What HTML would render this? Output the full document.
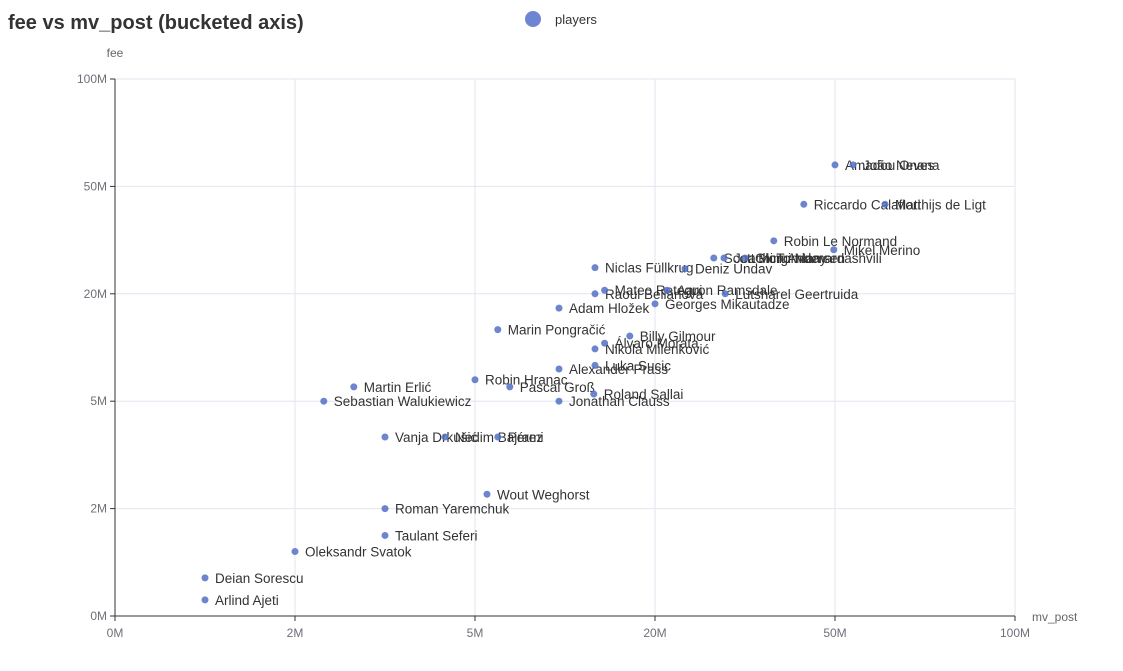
<!DOCTYPE html>
<html><head><meta charset="utf-8"><style>
html,body{margin:0;padding:0;background:#fff;}
svg{display:block;font-family:"Liberation Sans",sans-serif;}
</style></head><body>
<svg id="chart" width="1123" height="671">
<text x="8" y="29" font-size="20" font-weight="bold" fill="#333">fee vs mv_post (bucketed axis)</text>
<g>
<circle cx="533" cy="19" r="8" fill="#6e86d2"></circle>
<text x="555" y="24" font-size="13" fill="#333">players</text>
</g>
<text x="115" y="57" font-size="12" fill="#666" text-anchor="middle">fee</text>
<text x="1032" y="621" font-size="12" fill="#666">mv_post</text>
<g id="grid"></g><g id="axes"></g><g id="pts"></g>
</svg>
<script>
const tickValues = [0, 2, 5, 20, 50, 100];
const tickLabels = ["0M", "2M", "5M", "20M", "50M", "100M"];
const names = ["Deian Sorescu","Arlind Ajeti","Oleksandr Svatok","Taulant Seferi","Roman Yaremchuk","Wout Weghorst","Vanja Drkušić","Nedim Bajrami","Pérez","Sebastian Walukiewicz","Martin Erlić","Robin Hranac","Pascal Groß","Jonathan Clauss","Roland Sallai","Alexander Prass","Luka Sucic","Nikola Milenković","Álvaro Morata","Billy Gilmour","Marin Pongračić","Adam Hložek","Georges Mikautadze","Raoul Bellanova","Mateo Retegui","Aaron Ramsdale","Lutsharel Geertruida","Niclas Füllkrug","Deniz Undav","Scott McTominay","Joachim Andersen","Giorgi Mamardashvili","Robin Le Normand","Mikel Merino","Riccardo Calafiori","Matthijs de Ligt","Amadou Onana","João Neves"];
const mvPost = [1,1,2,3.5,3.5,6,3.5,4.5,6.9,2.48,2.98,5,7.9,12,14.9,12,15,15,15.8,17.9,6.9,12,20,15,15.8,22,31.7,15,25,29.8,31.5,35,39.8,49.8,44.8,63.9,50,55];
const fee = [0.71,0.3,1.2,1.5,2,2.4,4,4,4,5,7,8,7,5,6,9.5,10,12.3,13.1,14.1,15,18,18.6,20,21,21,20,27.3,27,30,30,30,34.8,32.3,45,45,60,60];
const X0=115, XS=180, Y0=616, YS=107.4;
function bucket(v){
  for(let i=0;i<tickValues.length-1;i++){
    if(v<=tickValues[i+1]) return i+(v-tickValues[i])/(tickValues[i+1]-tickValues[i]);
  }
  return tickValues.length-1;
}
function xPix(v){return X0+XS*bucket(v);}
function yPix(v){return Y0-YS*bucket(v);}
const NS="http://www.w3.org/2000/svg";
const grid=document.getElementById('grid'), axes=document.getElementById('axes'), pts=document.getElementById('pts');
function mk(tag,attrs,parent){const e=document.createElementNS(NS,tag);for(const k in attrs)e.setAttribute(k,attrs[k]);parent.appendChild(e);return e;}
tickValues.forEach((v,i)=>{
  const x=xPix(v), y=yPix(v);
  if(i>0){
    const gx=mk('line',{x1:x,y1:yPix(100),x2:x,y2:Y0,stroke:'#e0e6f1'},grid);
    
    
    const gy=mk('line',{x1:X0,y1:y,x2:xPix(100),y2:y,stroke:'#e0e6f1'},grid);
    
    
  }
  const tx=mk('text',{x:x,y:Y0+21,'font-size':12,fill:'#6e7079','text-anchor':'middle'},axes);
  tx.textContent=tickLabels[i];
  
  
  const ty=mk('text',{x:X0-8,y:y+4,'font-size':12,fill:'#6e7079','text-anchor':'end'},axes);
  ty.textContent=tickLabels[i];
  
  
  mk('line',{x1:x,y1:Y0,x2:x,y2:Y0+5,stroke:'#333'},axes);
  mk('line',{x1:X0-5,y1:y,x2:X0,y2:y,stroke:'#333'},axes);
});
const xa=mk('line',{x1:X0,y1:Y0,x2:xPix(100),y2:Y0,stroke:'#333'},axes);


const ya=mk('line',{x1:X0,y1:yPix(100),x2:X0,y2:Y0,stroke:'#333'},axes);


names.forEach((n,i)=>{
  const x=xPix(mvPost[i]), y=yPix(fee[i]);
  const c=mk('circle',{cx:x,cy:y,r:3.5,fill:'#5470c6','fill-opacity':0.85},pts);
  
  
  const t=mk('text',{x:x+10,y:y+5,'font-size':13.5,fill:'#333'},pts);
  t.textContent=n;
  
  
});
</script>
</body></html>
